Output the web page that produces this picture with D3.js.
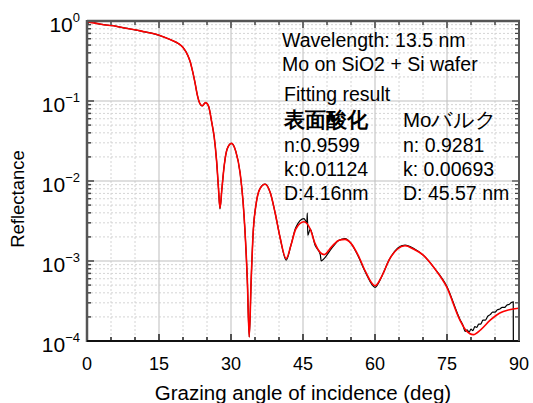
<!DOCTYPE html>
<html><head><meta charset="utf-8">
<script src="https://cdn.jsdelivr.net/npm/d3@7"></script>
<style>body{margin:0;background:#fff;} text{font-family:"Liberation Sans",Arial,sans-serif;}</style>
</head><body>
<svg id="c" width="533" height="403"></svg>
<script>
// Fit (red): grazing angle (deg) and log10 reflectance
const fitAngle = [0,2,4,6,8,10,12,14,16,18,19,20,21,21.5,22,22.5,23,23.5,24,24.7,25.3,26,26.5,27,27.4,27.7,28.1,28.6,29.2,30.1,31,31.9,32.5,32.9,33.4,33.8,34.2,34.65,35.2,36,37.1,38.2,39.2,40.2,41.5,42.5,43.5,45.2,46.5,47.5,49.4,51,52.5,53.75,55,56.5,58,60,61.5,63,64.7,66.25,68,70.1,72.5,74.9,77.7,79,80.5,82,84,86,88,89.9];
const fitLogR = [-0.01,-0.03,-0.05,-0.065,-0.09,-0.11,-0.135,-0.16,-0.2,-0.25,-0.28,-0.33,-0.43,-0.51,-0.63,-0.77,-0.93,-1.03,-1.06,-1.02,-1.06,-1.27,-1.45,-1.75,-2.1,-2.34,-2.1,-1.8,-1.6,-1.53,-1.63,-1.9,-2.25,-2.61,-3.24,-3.95,-3.24,-2.61,-2.3,-2.1,-2.04,-2.15,-2.4,-2.7,-2.97,-2.8,-2.6,-2.51,-2.6,-2.78,-2.92,-2.82,-2.74,-2.73,-2.78,-2.93,-3.13,-3.31,-3.18,-2.98,-2.85,-2.81,-2.85,-2.93,-3.1,-3.32,-3.74,-3.87,-3.92,-3.86,-3.74,-3.65,-3.61,-3.59];
// Measured (black)
const measAngle = [0,0.3,0.6,1,2,4,6,8,10,12,14,16,18,19,20,21,21.5,22,22.5,23,23.5,24,24.7,25.3,26,26.5,27,27.4,27.7,28.1,28.6,29.2,30.1,31,31.9,32.5,32.9,33.4,33.8,34.2,34.65,35.2,36,37.1,38.2,39.2,40.2,41.5,42.5,43.5,45.2,45.8,45.9,46.0,46.5,47.5,48.6,48.8,49.4,51,52.5,53.75,55,56.5,58,60,61.5,63,64.7,66.25,68,70.1,72.5,74.9,77.7,78.3,78.8,79.2,79.6,80.0,80.4,80.8,81.2,81.6,82.0,82.5,83.0,83.5,84.0,84.5,85.0,85.5,86.0,86.5,87.0,87.5,88.0,88.4,88.8,88.85];
const measLogR = [-0.06,-0.02,-0.005,-0.01,-0.03,-0.05,-0.065,-0.09,-0.11,-0.135,-0.16,-0.2,-0.25,-0.28,-0.33,-0.43,-0.51,-0.63,-0.77,-0.93,-1.03,-1.06,-1.02,-1.06,-1.27,-1.45,-1.75,-2.1,-2.35,-2.1,-1.8,-1.6,-1.53,-1.63,-1.9,-2.25,-2.61,-3.24,-3.95,-3.24,-2.61,-2.3,-2.1,-2.04,-2.15,-2.4,-2.7,-2.99,-2.8,-2.58,-2.47,-2.52,-2.40,-2.68,-2.6,-2.8,-2.92,-3.0,-2.97,-2.84,-2.74,-2.72,-2.78,-2.94,-3.14,-3.33,-3.18,-2.98,-2.84,-2.80,-2.84,-2.93,-3.1,-3.31,-3.73,-3.80,-3.88,-3.86,-3.89,-3.85,-3.87,-3.82,-3.83,-3.79,-3.79,-3.74,-3.74,-3.69,-3.67,-3.64,-3.64,-3.61,-3.60,-3.58,-3.58,-3.55,-3.54,-3.52,-3.51,-4.5];
const xTicks = [0,15,30,45,60,75,90];
const yDecades = [0,-1,-2,-3,-4];
const xTitle = "Grazing angle of incidence (deg)";
const yTitle = "Reflectance";
const infoLines = ["Wavelength: 13.5 nm","Mo on SiO2 + Si wafer","Fitting result"];
const col1 = ["表面酸化","n:0.9599","k:0.01124","D:4.16nm"];
const col2 = ["Moバルク","n: 0.9281","k: 0.00693","D: 45.57 nm"];

const svg = d3.select("#c");
const L=87,R=519,T=21,B=341;
const x = d3.scaleLinear().domain([0,90]).range([L,R]);
const y = d3.scaleLog().domain([1e-4,1]).range([B,T]);

// grid
const g = svg.append("g");
const minorX = d3.range(5,90,5).filter(v=>v%15!==0);
g.selectAll(".mx").data(minorX).join("line").attr("x1",d=>x(d)).attr("x2",d=>x(d)).attr("y1",T).attr("y2",B)
 .attr("stroke","#d4d4d4").attr("stroke-width",1).attr("stroke-dasharray","2,2");
const minorY=[];
yDecades.slice(0,4).forEach(e=>{for(let m=2;m<=9;m++) minorY.push(m*Math.pow(10,e-1));});
g.selectAll(".my").data(minorY).join("line").attr("x1",L).attr("x2",R).attr("y1",d=>y(d)).attr("y2",d=>y(d))
 .attr("stroke","#d4d4d4").attr("stroke-width",1).attr("stroke-dasharray","2,2");
g.selectAll(".Mx").data(xTicks.slice(1,-1)).join("line").attr("x1",d=>x(d)).attr("x2",d=>x(d)).attr("y1",T).attr("y2",B)
 .attr("stroke","#c8c8c8").attr("stroke-width",1.2);
g.selectAll(".My").data(yDecades.slice(1,-1)).join("line").attr("x1",L).attr("x2",R).attr("y1",d=>y(Math.pow(10,d))).attr("y2",d=>y(Math.pow(10,d)))
 .attr("stroke","#c0c0c0").attr("stroke-width",1.2);

// curves
svg.append("clipPath").attr("id","cp").append("rect").attr("x",L).attr("y",T-1).attr("width",R-L).attr("height",B-T+1);
const line = d3.line().x(d=>x(d[0])).y(d=>y(Math.pow(10,d[1]))).curve(d3.curveMonotoneX);
const meas = measAngle.map((a,i)=>[a,measLogR[i]]);
const fit = fitAngle.map((a,i)=>[a,fitLogR[i]]);
const cg = svg.append("g").attr("clip-path","url(#cp)");
cg.append("path").attr("d",line(meas)).attr("fill","none").attr("stroke","#000").attr("stroke-width",1.2);
cg.append("path").attr("d",line(fit)).attr("fill","none").attr("stroke","#f00").attr("stroke-width",1.6);

// axes frame and inward ticks
const ax = svg.append("g");
const xt = d3.range(0,91,5);
ax.selectAll(".tb").data(xt).join("line").attr("x1",d=>x(d)).attr("x2",d=>x(d)).attr("y1",B).attr("y2",d=>B-(d%15===0?7:4)).attr("stroke","#222").attr("stroke-width",1.5);
ax.selectAll(".tt").data(xt).join("line").attr("x1",d=>x(d)).attr("x2",d=>x(d)).attr("y1",T).attr("y2",d=>T+(d%15===0?7:4)).attr("stroke","#444").attr("stroke-width",1.5);
const yt = minorY.concat(yDecades.map(e=>Math.pow(10,e)));
const isMajor = d=>Math.abs(Math.log10(d)-Math.round(Math.log10(d)))<1e-6;
ax.selectAll(".tl").data(yt).join("line").attr("x1",L).attr("x2",d=>L+(isMajor(d)?7:4)).attr("y1",d=>y(d)).attr("y2",d=>y(d)).attr("stroke","#444").attr("stroke-width",1.5);
ax.selectAll(".tr").data(yt).join("line").attr("x1",R).attr("x2",d=>R-(isMajor(d)?7:4)).attr("y1",d=>y(d)).attr("y2",d=>y(d)).attr("stroke","#444").attr("stroke-width",1.2);
ax.append("line").attr("x1",L).attr("x2",L).attr("y1",T-1).attr("y2",B+1).attr("stroke","#555").attr("stroke-width",2.5);
ax.append("line").attr("x1",L).attr("x2",R+1).attr("y1",T).attr("y2",T).attr("stroke","#555").attr("stroke-width",2.5);
ax.append("line").attr("x1",L).attr("x2",R+1).attr("y1",B).attr("y2",B).attr("stroke","#111").attr("stroke-width",2);
ax.append("line").attr("x1",R).attr("x2",R).attr("y1",T).attr("y2",B).attr("stroke","#555").attr("stroke-width",2);

// tick labels
ax.selectAll(".xl").data(xTicks).join("text").attr("x",d=>x(d)).attr("y",370).attr("text-anchor","middle")
  .attr("font-size",18).text(d=>d);
yDecades.forEach(e=>{
  const t = ax.append("text").attr("x",80).attr("y",y(Math.pow(10,e))+11).attr("text-anchor","end").attr("font-size",21);
  t.append("tspan").text("10");
  t.append("tspan").attr("dy",-10).attr("font-size",13).text(e===0?"0":"\u2212"+(-e));
});
svg.append("text").attr("x",(L+R)/2).attr("y",400).attr("text-anchor","middle").attr("font-size",20.5).text(xTitle);
svg.append("text").attr("transform","translate(24,199) rotate(-90)").attr("text-anchor","middle").attr("font-size",18.5).text(yTitle);

// annotations
const ys=[47,71,101];
infoLines.forEach((s,i)=>svg.append("text").attr("x",i<2?282:284).attr("y",ys[i]).attr("font-size",19.5).text(s));
const rowY=[127,152,176,200];
col1.forEach((s,i)=>svg.append("text").attr("x",284).attr("y",rowY[i]).attr("font-size",i===0?21:19.5)
  .attr("font-weight",i===0?"bold":"normal").attr("font-family",i===0?"'Noto Sans CJK JP'":null).text(s));
col2.forEach((s,i)=>svg.append("text").attr("x",403).attr("y",rowY[i]).attr("font-size",i===0?20.5:19.5)
  .attr("font-family",i===0?"'Noto Sans CJK JP'":null).text(s));
</script>
</body></html>
